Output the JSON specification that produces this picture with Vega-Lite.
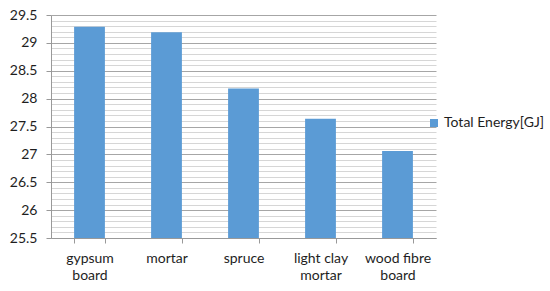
{
  "$schema": "https://vega.github.io/schema/vega-lite/v6.json",
  "autosize": "none",
  "padding": {"left": 51, "top": 15, "right": 114, "bottom": 53},
  "width": 385,
  "height": 223,
  "background": "white",
  "config": {
    "view": {"stroke": null},
    "font": "Lato",
    "axis": {"labelFont": "Lato", "labelFontSize": 14, "labelColor": "#1e1e1e"},
    "legend": {"labelFont": "Lato", "labelFontSize": 14, "labelColor": "#1e1e1e"}
  },
  "data": {
    "values": [
      {"material": "gypsum board", "value": 29.29, "series": "Total Energy[GJ]"},
      {"material": "mortar", "value": 29.19, "series": "Total Energy[GJ]"},
      {"material": "spruce", "value": 28.18, "series": "Total Energy[GJ]"},
      {"material": "light clay mortar", "value": 27.64, "series": "Total Energy[GJ]"},
      {"material": "wood fibre board", "value": 27.06, "series": "Total Energy[GJ]"}
    ]
  },
  "mark": {"type": "bar", "clip": true},
  "encoding": {
    "x": {
      "field": "material",
      "type": "nominal",
      "sort": null,
      "scale": {"paddingInner": 0.6, "paddingOuter": 0.3},
      "axis": {
        "title": null,
        "labelAngle": 0,
        "tickBand": "extent",
        "tickSize": 5,
        "tickColor": "#999999",
        "domainColor": "#999999",
        "labelPadding": 8,
        "labelLineHeight": 17,
        "labelExpr": "datum.label == 'gypsum board' ? ['gypsum', 'board'] : datum.label == 'light clay mortar' ? ['light clay', 'mortar'] : datum.label == 'wood fibre board' ? ['wood fibre', 'board'] : datum.label"
      }
    },
    "y": {
      "field": "value",
      "type": "quantitative",
      "scale": {"domain": [25.5, 29.5], "zero": false, "nice": false},
      "axis": {
        "title": null,
        "values": [25.5,25.6,25.7,25.8,25.9,26.0,26.1,26.2,26.3,26.4,26.5,26.6,26.7,26.8,26.9,27.0,27.1,27.2,27.3,27.4,27.5,27.6,27.7,27.8,27.9,28.0,28.1,28.2,28.3,28.4,28.5,28.6,28.7,28.8,28.9,29.0,29.1,29.2,29.3,29.4,29.5],
        "labelExpr": "abs(datum.value*2 - round(datum.value*2)) < 0.01 ? datum.label : ''",
        "format": "~r",
        "grid": true,
        "gridColor": {"condition": {"test": "abs(datum.value*2 - round(datum.value*2)) < 0.01", "value": "#a6a6a6"}, "value": "#d6d6d6"},
        "tickColor": {"condition": {"test": "abs(datum.value*2 - round(datum.value*2)) < 0.01", "value": "#999999"}, "value": "transparent"},
        "tickSize": 5,
        "labelPadding": 9,
        "domainColor": "#999999"
      }
    },
    "color": {
      "field": "series",
      "type": "nominal",
      "scale": {"range": ["#5B9BD5"]},
      "legend": {
        "title": null,
        "orient": "none",
        "legendX": 376,
        "legendY": 101,
        "symbolType": "square",
        "symbolSize": 64,
        "symbolStrokeWidth": 0,
        "labelOffset": 3
      }
    }
  }
}
